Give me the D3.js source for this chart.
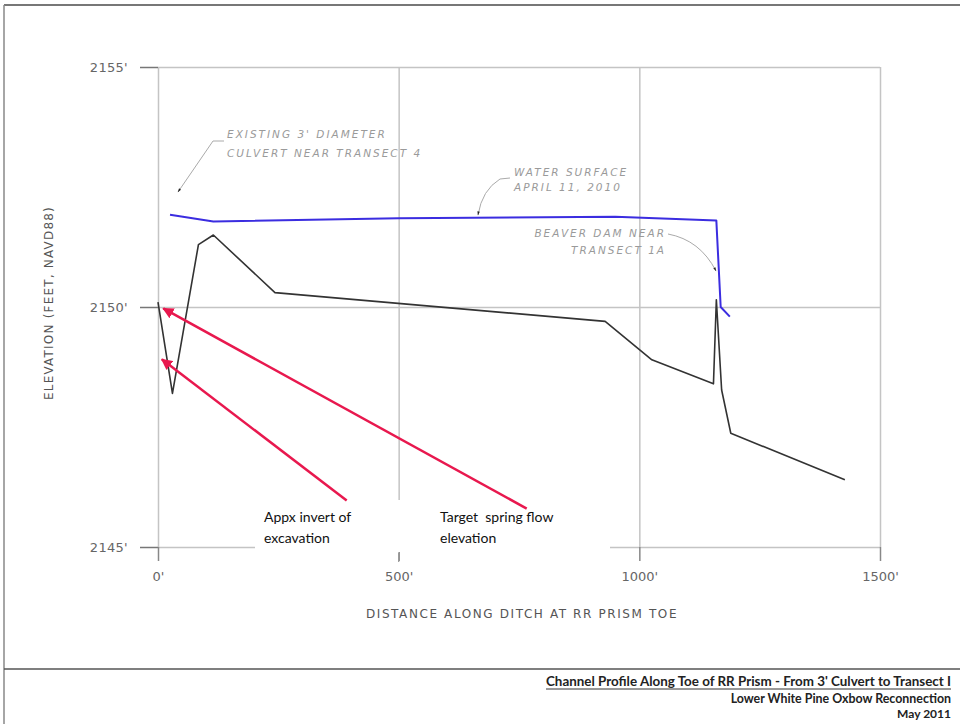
<!DOCTYPE html>
<html><head><meta charset="utf-8">
<script src="https://cdn.jsdelivr.net/npm/d3@7"></script>
<style>
html,body{margin:0;padding:0;background:#fff;}
svg{display:block;}
</style></head>
<body>
<svg id="chart" width="960" height="724"></svg>
<script>
// ---- data ----
const groundDist = [0, 30, 84, 115, 243, 929, 1026, 1154, 1160, 1171, 1190, 1427];
const groundElev = [2150.1, 2148.2, 2151.3, 2151.5, 2150.3, 2149.7, 2148.9, 2148.4, 2150.15, 2148.27, 2147.37, 2146.4];
const waterDist = [25, 115, 500, 950, 1160, 1169, 1188];
const waterElev = [2151.92, 2151.78, 2151.85, 2151.88, 2151.8, 2150.0, 2149.8];
const xTicks = [0, 500, 1000, 1500];
const xTickLabels = ["0'", "500'", "1000'", "1500'"];
const yTicks = [2145, 2150, 2155];
const yTickLabels = ["2145'", "2150'", "2155'"];
const redArrowNames = ["Appx invert of excavation", "Target spring flow elevation"];
const redTailDist = [392, 766];
const redTailElev = [2145.97, 2145.8];
const redTipDist = [8, 11];
const redTipElev = [2148.91, 2149.97];
const redLabelLines = [["Appx invert of", "excavation"], ["Target  spring flow", "elevation"]];
const titleLines = ["Channel Profile Along Toe of RR Prism - From 3' Culvert to Transect I", "Lower White Pine Oxbow Reconnection", "May 2011"];

const svg = d3.select("#chart");
const x = d3.scaleLinear().domain([0, 1500]).range([158, 880]);
const y = d3.scaleLinear().domain([2145, 2155]).range([547, 67]);

// frame
svg.append("line").attr("x1", 4).attr("x2", 960).attr("y1", 5).attr("y2", 5).attr("stroke", "#777").attr("stroke-width", 2);
svg.append("line").attr("x1", 4).attr("x2", 4).attr("y1", 5).attr("y2", 724).attr("stroke", "#888").attr("stroke-width", 1.5);
svg.append("line").attr("x1", 4).attr("x2", 960).attr("y1", 669).attr("y2", 669).attr("stroke", "#555").attr("stroke-width", 1.5);

const gridCol = "#c4c4c4";
// horizontal grid
const gy = svg.append("g").attr("transform", `translate(${x(0)},0)`)
  .call(d3.axisLeft(y).tickValues(yTicks).tickSize(-(x(1500) - x(0))).tickFormat(""));
gy.select(".domain").remove();
gy.selectAll(".tick line").attr("stroke", gridCol).attr("stroke-width", 1.5);
// vertical grid
const gx = svg.append("g").attr("transform", `translate(0,${y(2145)})`)
  .call(d3.axisBottom(x).tickValues(xTicks).tickSize(-(y(2145) - y(2155))).tickFormat(""));
gx.select(".domain").remove();
gx.selectAll(".tick line").attr("stroke", gridCol).attr("stroke-width", 1.5);

// ticks + labels
const ay = svg.append("g").attr("transform", `translate(${x(0)},0)`)
  .call(d3.axisLeft(y).tickValues(yTicks).tickSize(18).tickPadding(12).tickFormat((d) => yTickLabels[yTicks.indexOf(d)]));
ay.select(".domain").remove();
ay.selectAll(".tick line").attr("stroke", "#777").attr("stroke-width", 1.5);
ay.selectAll(".tick text").attr("font-family", "DejaVu Sans").attr("font-size", 13).attr("letter-spacing", 0.3).attr("fill", "#666");

const ax = svg.append("g").attr("transform", `translate(0,${y(2145)})`)
  .call(d3.axisBottom(x).tickValues(xTicks).tickSize(14).tickPadding(11).tickFormat(d => xTickLabels[xTicks.indexOf(d)]));
ax.select(".domain").remove();
ax.selectAll(".tick line").attr("stroke", "#888").attr("stroke-width", 1.5);
ax.selectAll(".tick text").attr("font-family", "DejaVu Sans").attr("font-size", 13).attr("fill", "#666");

// axis titles
svg.append("text").attr("transform", `translate(53,${y(2150) - 4}) rotate(-90)`).attr("text-anchor", "middle")
  .attr("font-family", "DejaVu Sans").attr("font-size", 12).attr("letter-spacing", 1.2).attr("fill", "#555")
  .text("ELEVATION (FEET, NAVD88)");
svg.append("text").attr("x", 522).attr("y", 618).attr("text-anchor", "middle")
  .attr("font-family", "DejaVu Sans").attr("font-size", 12).attr("letter-spacing", 1.6).attr("fill", "#555")
  .text("DISTANCE ALONG DITCH AT RR PRISM TOE");

// whiteout box behind labels
svg.append("rect").attr("x", 255).attr("y", 500).attr("width", 355).attr("height", 52).attr("fill", "#fff");
svg.append("line").attr("x1", x(500)).attr("x2", x(500)).attr("y1", 553).attr("y2", 562).attr("stroke", "#999").attr("stroke-width", 1.2);

// profile lines
const line = d3.line().x(d => x(d[0])).y(d => y(d[1]));
svg.append("path").datum(groundDist.map((d, i) => [d, groundElev[i]]))
  .attr("d", line).attr("fill", "none").attr("stroke", "#333").attr("stroke-width", 1.6).attr("stroke-linejoin", "round");
svg.append("path").datum(waterDist.map((d, i) => [d, waterElev[i]]))
  .attr("d", line).attr("fill", "none").attr("stroke", "#3b2de0").attr("stroke-width", 2).attr("stroke-linejoin", "round");

// defs for arrowheads
const defs = svg.append("defs");
defs.append("marker").attr("id", "redHead").attr("viewBox", "0 0 10 10").attr("refX", 9).attr("refY", 5)
  .attr("markerWidth", 4.5).attr("markerHeight", 4.5).attr("orient", "auto")
  .append("path").attr("d", "M0,0 L10,5 L0,10 Z").attr("fill", "#e8184e");
defs.append("marker").attr("id", "darkHead").attr("viewBox", "0 0 10 10").attr("refX", 9).attr("refY", 5)
  .attr("markerWidth", 9).attr("markerHeight", 4).attr("orient", "auto").attr("markerUnits", "userSpaceOnUse")
  .append("path").attr("d", "M0,2 L10,5 L0,8 Z").attr("fill", "#222");

// CAD leader annotations
const cadFont = "DejaVu Sans";
function cadText(lines, xs, ys, anchor) {
  lines.forEach((t, i) => {
    svg.append("text").attr("x", xs[i]).attr("y", ys[i]).attr("text-anchor", anchor || "start")
      .attr("font-family", cadFont).attr("font-size", 10.5).attr("font-style", "italic")
      .attr("letter-spacing", 2).attr("fill", "#9a9a9a").text(t);
  });
}
cadText(["EXISTING 3' DIAMETER", "CULVERT NEAR TRANSECT 4"], [227, 227], [138, 157]);
svg.append("path").attr("d", "M224,141 L213,141 L178,192").attr("fill", "none").attr("stroke", "#aaa").attr("stroke-width", 1)
  .attr("marker-end", "url(#darkHead)");
cadText(["WATER SURFACE", "APRIL 11, 2010"], [514, 514], [176, 191]);
svg.append("path").attr("d", "M510,178 L500,179 Q482,190 478,215").attr("fill", "none").attr("stroke", "#aaa").attr("stroke-width", 1)
  .attr("marker-end", "url(#darkHead)");
cadText(["BEAVER DAM NEAR", "TRANSECT 1A"], [666, 666], [237, 254], "end");
svg.append("path").attr("d", "M668,234 Q700,240 716,271").attr("fill", "none").attr("stroke", "#aaa").attr("stroke-width", 1)
  .attr("marker-end", "url(#darkHead)");

// red arrows
redArrowNames.forEach((name, i) => {
  svg.append("line").attr("class", "red-arrow").attr("data-name", name)
    .attr("x1", x(redTailDist[i])).attr("y1", y(redTailElev[i]))
    .attr("x2", x(redTipDist[i])).attr("y2", y(redTipElev[i]))
    .attr("stroke", "#e8184e").attr("stroke-width", 2.5).attr("marker-end", "url(#redHead)");
});
const labelX = [264, 440];
redLabelLines.forEach((ls, i) => {
  ls.forEach((t, j) => {
    svg.append("text").attr("x", labelX[i]).attr("y", 522 + j * 21)
      .attr("font-family", "Lato").attr("font-size", 14).attr("fill", "#111").attr("xml:space", "preserve").text(t);
  });
});

// title block
const tb = [
  {t: titleLines[0], y: 686, s: 13.4},
  {t: titleLines[1], y: 703, s: 12.4},
  {t: titleLines[2], y: 718, s: 12}
];
tb.forEach((d, i) => {
  const tx = svg.append("text").attr("x", 951).attr("y", d.y).attr("text-anchor", "end")
    .attr("font-family", "Lato").attr("font-weight", "bold").attr("font-size", d.s).attr("fill", "#222").text(d.t);
  if (i === 0) {
    const w = tx.node().getComputedTextLength();
    svg.append("line").attr("x1", 951 - w).attr("x2", 951).attr("y1", d.y + 3).attr("y2", d.y + 3).attr("stroke", "#333").attr("stroke-width", 1);
  }
});
</script>
</body></html>
